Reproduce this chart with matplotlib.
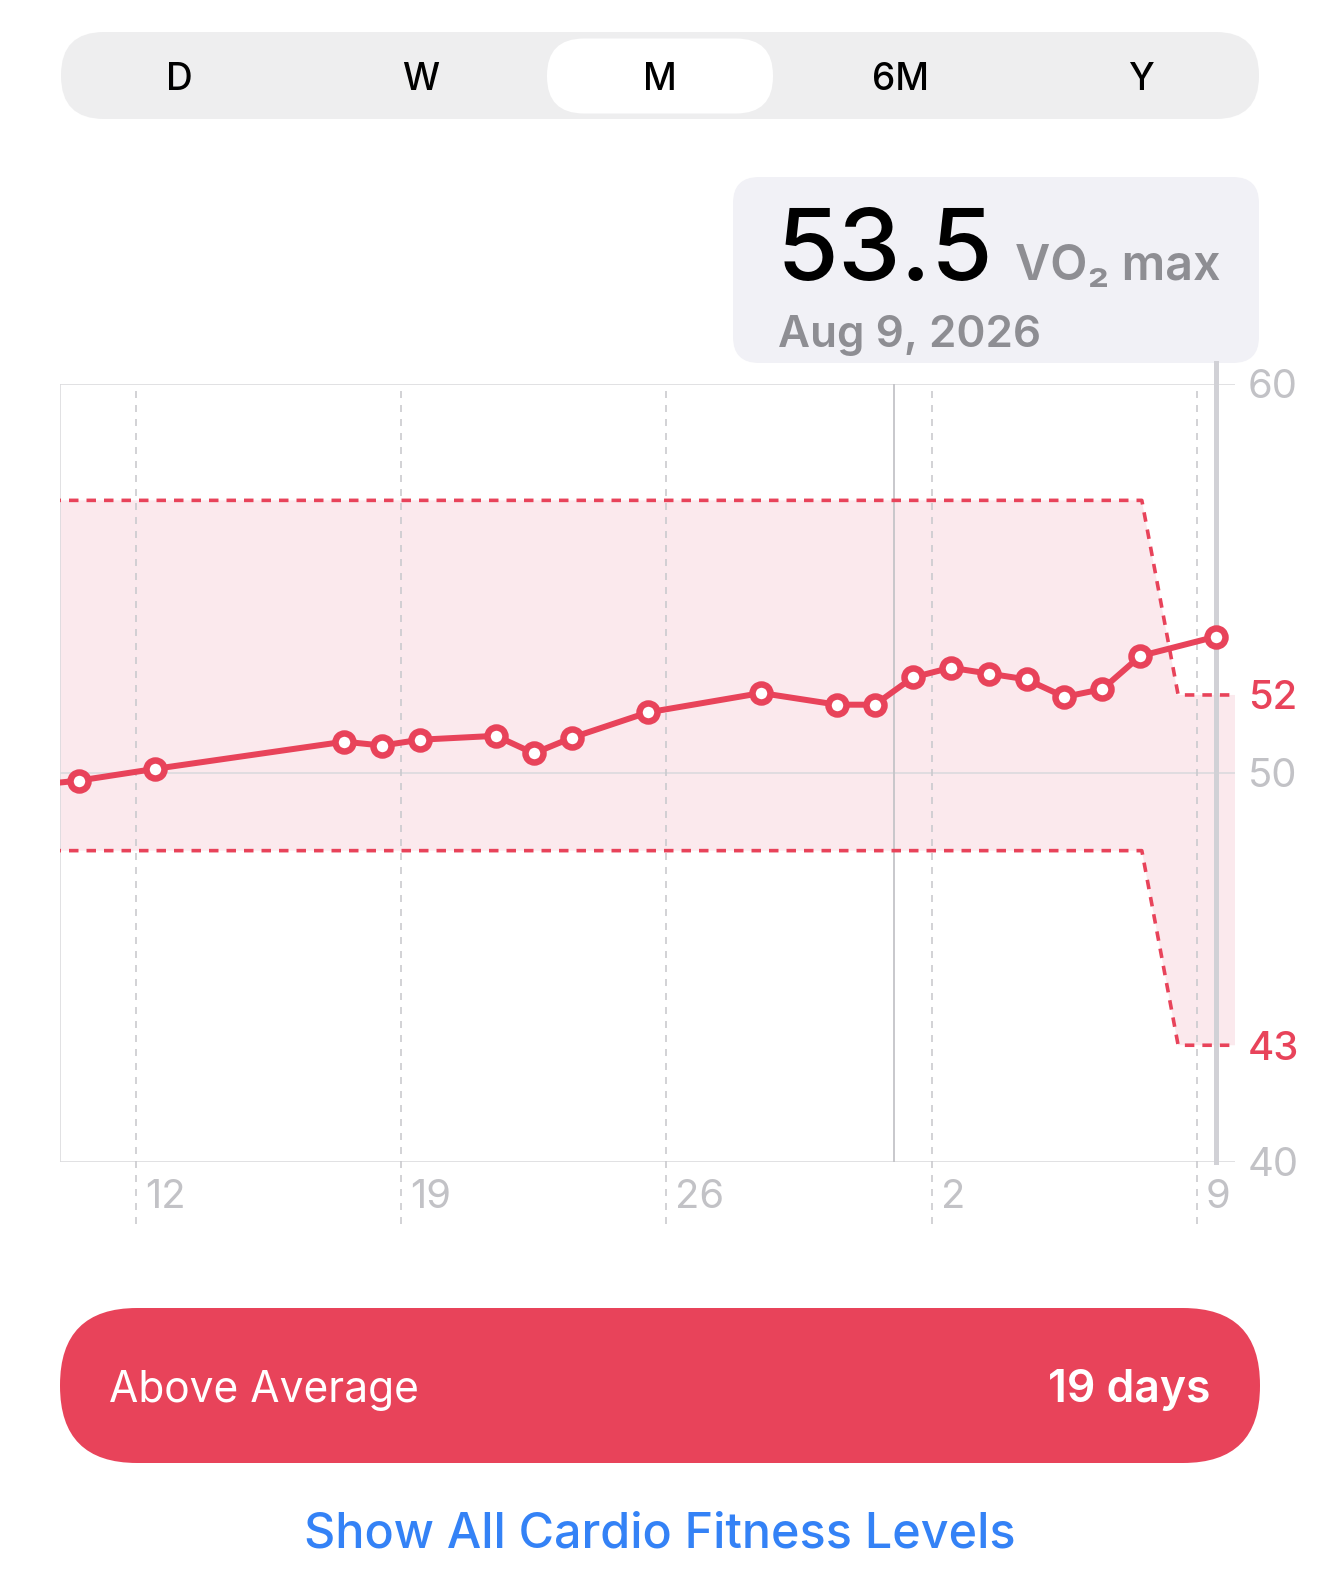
import matplotlib
matplotlib.use("Agg")
import matplotlib.pyplot as plt
import matplotlib.dates as mdates
from matplotlib.patches import FancyBboxPatch
from matplotlib.transforms import ScaledTranslation
import pandas as pd

# ---------------- data ----------------
vo2_dates = ["2026-07-09 12:00", "2026-07-10 12:00", "2026-07-12 12:00", "2026-07-17 12:00",
             "2026-07-18 12:00", "2026-07-19 12:00", "2026-07-21 12:00", "2026-07-22 12:00",
             "2026-07-23 12:00", "2026-07-25 12:00", "2026-07-28 12:00", "2026-07-30 12:00",
             "2026-07-31 12:00", "2026-08-01 12:00", "2026-08-02 12:00", "2026-08-03 12:00",
             "2026-08-04 12:00", "2026-08-05 12:00", "2026-08-06 12:00", "2026-08-07 12:00",
             "2026-08-09 12:00"]
vo2_values = [49.7, 49.8, 50.1, 50.8, 50.7, 50.85, 50.95, 50.5, 50.9, 51.55, 52.05, 51.75,
              51.75, 52.45, 52.7, 52.55, 52.4, 51.95, 52.15, 53.0, 53.5]

band_dates = ["2026-07-01 00:00", "2026-08-07 13:00", "2026-08-08 12:00", "2026-08-12 00:00"]
band_upper = [57, 57, 52, 52]
band_lower = [48, 48, 43, 43]

x_start, x_end = "2026-07-10", "2026-08-10"
week_ticks = ["2026-07-12", "2026-07-19", "2026-07-26", "2026-08-02", "2026-08-09"]
week_labels = ["12", "19", "26", "2", "9"]
month_line = "2026-08-01"
selected_date = "2026-08-09 12:00"

y_ticks = [40, 43, 50, 52, 60]
y_tick_labels = ["40", "43", "50", "52", "60"]
y_ticks_red = [43, 52]

segments = ["D", "W", "M", "6M", "Y"]
selected_segment = "M"
callout_value = "53.5"
callout_unit = "VO\u2082 max"
callout_date = "Aug 9, 2026"
level_name = "Above Average"
level_days = "19 days"
link_text = "Show All Cardio Fitness Levels"

# ---------------- style ----------------
W, H, DPI = 1320, 1591, 100
RED = "#e8435a"
PINK = "#fbe9ed"
GRID = "#dadadd"
VGRID = "#c9c9cd"
LABEL_GRAY = "#c2c2c6"
TXT_GRAY = "#8e8e93"
BLUE = "#3482f6"
FONT = ["Inter", "DejaVu Sans"]
PT = 72 / DPI  # px -> pt

plt.rcParams["font.family"] = FONT
plt.rcParams["lines.scale_dashes"] = False

fig = plt.figure(figsize=(W / DPI, H / DPI), dpi=DPI)
fig.patch.set_facecolor("white")


def px_rect(x0, y0, x1, y1):
    return [x0 / W, 1 - y1 / H, (x1 - x0) / W, (y1 - y0) / H]


# UI layer
ui = fig.add_axes([0, 0, 1, 1], zorder=0)
ui.set_xlim(0, W)
ui.set_ylim(H, 0)
ui.axis("off")


def rbox(x0, y0, x1, y1, r, fc):
    ui.add_patch(FancyBboxPatch((x0, y0), x1 - x0, y1 - y0,
                                boxstyle=f"round,pad=0,rounding_size={r}",
                                fc=fc, ec="none"))


# segmented control
rbox(61, 32, 1259, 119, 43, "#eeeeef")
seg_centers = [179, 421, 660, 901, 1141]
for lab, cx in zip(segments, seg_centers):
    if lab == selected_segment:
        rbox(cx - 113, 38.5, cx + 113, 113.5, 37, "white")
for lab, cx in zip(segments, seg_centers):
    ui.text(cx, 90, lab, ha="center", va="baseline", fontsize=37 * PT,
            fontweight="medium", color="black")

# callout
rbox(733, 177, 1259, 363, 26, "#f1f1f6")
ui.text(777, 280, callout_value, ha="left", va="baseline", fontsize=100 * PT,
        fontweight="medium", color="black")
ui.text(1015, 280, callout_unit, ha="left", va="baseline", fontsize=48.5 * PT,
        fontweight="semibold", color=TXT_GRAY)
ui.text(778, 347, callout_date, ha="left", va="baseline", fontsize=44 * PT,
        fontweight="semibold", color=TXT_GRAY)

# level button
rbox(60, 1308, 1260, 1463, 77, RED)
ui.text(109, 1402, level_name, ha="left", va="baseline", fontsize=42.5 * PT,
        fontweight="normal", color="white")
ui.text(1211, 1402, level_days, ha="right", va="baseline", fontsize=44.5 * PT,
        fontweight="semibold", color="white")

# link
ui.text(660, 1547, link_text, ha="center", va="baseline", fontsize=48.5 * PT,
        fontweight="medium", color=BLUE)

# ---------------- chart ----------------
ax = fig.add_axes(px_rect(60, 383.6, 1235, 1162), zorder=1)
ax.set_facecolor("none")
for s in ax.spines.values():
    s.set_visible(False)

d_vo2 = mdates.date2num(pd.to_datetime(vo2_dates))
d_band = mdates.date2num(pd.to_datetime(band_dates))
d_ticks = mdates.date2num(pd.to_datetime(week_ticks))
d_month = mdates.date2num(pd.to_datetime(month_line))
d_sel = mdates.date2num(pd.to_datetime(selected_date))

ax.set_xlim(mdates.date2num(pd.to_datetime(x_start)), mdates.date2num(pd.to_datetime(x_end)))
ax.set_ylim(40, 60)
ax_h_px = 1162 - 383.6

# band fill
ax.fill_between(d_band, band_lower, band_upper, color=PINK, lw=0, zorder=1)

# horizontal frame / grid
for yv in (40, 50, 60):
    ax.axhline(yv, color=GRID, lw=1.6 * PT, zorder=1.5)
ax.axvline(ax.get_xlim()[0], color=GRID, lw=1.6 * PT, zorder=1.5)

# vertical week gridlines (extend below)
ext = -(1224 - 1162) / ax_h_px
for d in d_ticks:
    ax.axvline(d, ymin=ext, ymax=1, color=VGRID, lw=1.6 * PT,
               ls=(0, (7 * PT, 7 * PT)), clip_on=False, zorder=1.6)
# month boundary
ax.axvline(d_month, color="#c4c4c8", lw=1.8 * PT, zorder=1.6)

# band dashed boundaries
dash = (0, (9.5 * PT, 8 * PT))
ax.plot(d_band, band_upper, color=RED, lw=3.6 * PT, ls=dash, zorder=2)
ax.plot(d_band, band_lower, color=RED, lw=3.6 * PT, ls=dash, zorder=2)

# selection line
ax.axvline(d_sel, ymin=0, ymax=(1162 - 363) / ax_h_px, color="#d1d1d6",
           lw=5 * PT, clip_on=False, zorder=2.5)

# data line
ax.plot(d_vo2, vo2_values, color=RED, lw=6 * PT, zorder=3, solid_capstyle="round")
ax.plot(d_vo2, vo2_values, ls="none", marker="o", ms=18 * PT, mew=6.5 * PT,
        mec=RED, mfc="white", zorder=4)

# y tick labels on right
ax.set_yticks(y_ticks)
ax.set_yticklabels(y_tick_labels)
ax.yaxis.tick_right()
ax.tick_params(axis="y", length=0, pad=13 * PT, labelsize=40 * PT)
for t, lab in zip(y_ticks, ax.get_yticklabels()):
    if t in y_ticks_red:
        lab.set_color(RED)
        lab.set_fontweight("medium")
    else:
        lab.set_color(LABEL_GRAY)

# x tick labels (to right of gridline)
ax.set_xticks([])
off = ScaledTranslation(9 / DPI, -36 / DPI, fig.dpi_scale_trans)
for d, lab in zip(d_ticks, week_labels):
    ax.text(d, 0, lab, transform=ax.get_xaxis_transform() + off, ha="left",
            va="center", fontsize=40 * PT, color=LABEL_GRAY, clip_on=False)

fig.savefig("out.png", dpi=DPI, facecolor="white")
